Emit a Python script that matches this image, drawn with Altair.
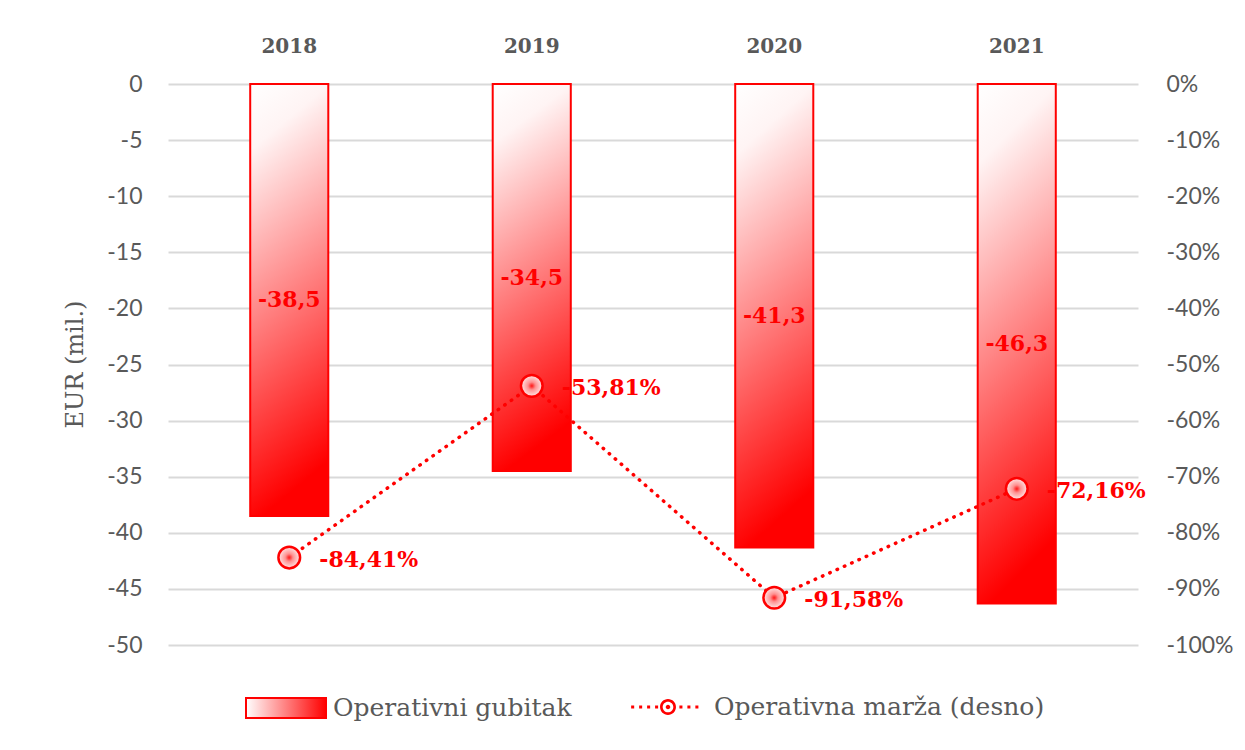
import altair as alt
import pandas as pd

years = ["2018", "2019", "2020", "2021"]
loss = [-38.5, -34.5, -41.3, -46.3]
loss_labels = ["-38,5", "-34,5", "-41,3", "-46,3"]
margin = [-84.41, -53.81, -91.58, -72.16]
margin_labels = ["-84,41%", "-53,81%", "-91,58%", "-72,16%"]
left_ticks = [0, -5, -10, -15, -20, -25, -30, -35, -40, -45, -50]
right_ticks = [0, -10, -20, -30, -40, -50, -60, -70, -80, -90, -100]
bar_series = "Operativni gubitak"
line_series = "Operativna marža (desno)"

df = pd.DataFrame({
    "year": years,
    "loss": loss,
    "loss_label": loss_labels,
    "margin": margin,
    "margin_label": margin_labels,
    "s_bar": [bar_series] * 4,
    "s_line": [line_series] * 4,
})

RED = "#ff0000"
GREY = "#595959"
SERIF = "DejaVu Serif"
SANS = "Lato"

bar_grad = {"gradient": "linear", "x1": 0, "y1": 0, "x2": 0.15, "y2": 1,
            "stops": [{"offset": 0, "color": "#ffffff"},
                      {"offset": 0.15, "color": "#fff4f4"},
                      {"offset": 1, "color": "#ff0000"}]}
legend_grad = {"gradient": "linear", "x1": 0, "y1": 0, "x2": 1, "y2": 0,
               "stops": [{"offset": 0, "color": "#ffffff"},
                         {"offset": 1, "color": "#ff0000"}]}
point_grad = {"gradient": "radial", "x1": 0.5, "y1": 0.5, "r1": 0,
              "x2": 0.5, "y2": 0.5, "r2": 0.5,
              "stops": [{"offset": 0, "color": "#ff1010"},
                        {"offset": 0.35, "color": "#ff9090"},
                        {"offset": 1, "color": "#ffe8e8"}]}

x_enc = alt.X("year:N", sort=years,
              scale=alt.Scale(paddingInner=0.678, paddingOuter=0.339),
              axis=alt.Axis(orient="top", title=None, domain=False, ticks=False,
                            labelAngle=0, labelFont=SERIF, labelFontSize=20,
                            labelFontWeight="bold", labelColor=GREY,
                            labelPadding=28))
x_plain = alt.X("year:N", sort=years)

left_scale = alt.Scale(domain=[-50, 0], nice=False, zero=False)
right_scale = alt.Scale(domain=[-100, 0], nice=False, zero=False)

left_axis = alt.Axis(values=left_ticks, title="EUR (mil.)", grid=True,
                     gridColor="#d9d9d9", gridWidth=2, domain=False,
                     ticks=False, tickSize=0, labelPadding=26,
                     labelExpr="'' + datum.value",
                     labelFont=SANS, labelFontSize=23, labelColor=GREY,
                     titleFont=SERIF, titleFontSize=24,
                     titleFontWeight="normal", titleColor=GREY,
                     titleX=-93, titleY=280, titleAngle=270,
                     titleAlign="center", titleBaseline="middle")
right_axis = alt.Axis(orient="right", values=right_ticks,
                      labelExpr="datum.value + '%'", title=None, grid=False,
                      domain=False, ticks=False, tickSize=0,
                      labelPadding=28, labelFont=SANS, labelFontSize=23,
                      labelColor=GREY)

bar_legend_path = "M-1,-0.25H1V0.25H-1Z"
dots = ""
for cx in [-0.93, -0.72, -0.51, -0.30, 0.34, 0.55, 0.76]:
    dots += "M%.3f,-0.04h0.08v0.08h-0.08Z" % (cx - 0.04)
ring = ("M-0.21,0A0.21,0.21 0 1 0 0.21,0A0.21,0.21 0 1 0 -0.21,0Z"
        "M-0.14,0A0.14,0.14 0 1 1 0.14,0A0.14,0.14 0 1 1 -0.14,0Z"
        "M-0.06,0A0.06,0.06 0 1 0 0.06,0A0.06,0.06 0 1 0 -0.06,0Z")
line_legend_path = dots + ring

bars = alt.Chart(df).mark_bar(fill=bar_grad, stroke=RED, strokeWidth=2).encode(
    x=x_enc,
    y=alt.Y("loss:Q", scale=left_scale, axis=left_axis),
)

bar_legend = alt.Chart(df).mark_point(
    size=0, fill=legend_grad, stroke=RED, strokeWidth=2
).encode(
    x=x_plain,
    y=alt.Y("loss:Q", scale=left_scale, axis=left_axis),
    opacity=alt.Opacity("s_bar:N", scale=alt.Scale(range=[1, 1]),
                        legend=alt.Legend(
                            title=None, orient="none", legendX=77, legendY=583,
                            symbolType=bar_legend_path, symbolSize=6400,
                            symbolStrokeWidth=2, labelLimit=600,
                            labelFont=SERIF, labelFontSize=25, labelColor=GREY,
                            labelOffset=6)),
)

bar_text = alt.Chart(df).transform_calculate(mid="datum.loss / 2").mark_text(
    font=SERIF, fontSize=22, fontWeight="bold", color=RED,
    baseline="middle", align="center"
).encode(
    x=x_plain,
    y=alt.Y("mid:Q", scale=left_scale, axis=left_axis),
    text="loss_label:N",
)

line = alt.Chart(df).mark_line(
    color=RED, strokeWidth=3.5, strokeDash=[0.5, 7.5], strokeCap="round"
).encode(
    x=x_plain,
    y=alt.Y("margin:Q", scale=right_scale, axis=right_axis),
)

points = alt.Chart(df).mark_point(
    shape="circle", size=470, fill=point_grad, fillOpacity=1, opacity=1,
    stroke=RED, strokeWidth=2.5
).encode(
    x=x_plain,
    y=alt.Y("margin:Q", scale=right_scale, axis=right_axis),
)

line_legend = alt.Chart(df).mark_point(
    size=0, fill=RED, stroke=RED, strokeWidth=0, fillOpacity=1
).encode(
    x=x_plain,
    y=alt.Y("margin:Q", scale=right_scale, axis=right_axis),
    opacity=alt.Opacity("s_line:N", scale=alt.Scale(range=[1, 1]),
                        legend=alt.Legend(
                            title=None, orient="none", legendX=462, legendY=585,
                            symbolType=line_legend_path, symbolSize=5776,
                            symbolStrokeWidth=0, labelLimit=600,
                            labelFont=SERIF, labelFontSize=25, labelColor=GREY,
                            labelOffset=8)),
)

point_text = alt.Chart(df).mark_text(
    font=SERIF, fontSize=22, fontWeight="bold", color=RED,
    align="left", baseline="middle", dx=30, dy=2
).encode(
    x=x_plain,
    y=alt.Y("margin:Q", scale=right_scale, axis=right_axis),
    text="margin_label:N",
)

left = alt.layer(bars, bar_text, bar_legend)
right = alt.layer(line, points, point_text, line_legend)

chart = alt.layer(left, right).resolve_scale(
    y="independent", opacity="independent"
).resolve_legend(opacity="independent").properties(
    width=970, height=561,
    padding={"left": 160, "top": 76, "right": 96, "bottom": 90},
    autosize=alt.AutoSizeParams(type="none"),
    background="white",
).configure_view(stroke=None)

chart.save("out.html", embed_options={"renderer": "svg", "actions": False})
